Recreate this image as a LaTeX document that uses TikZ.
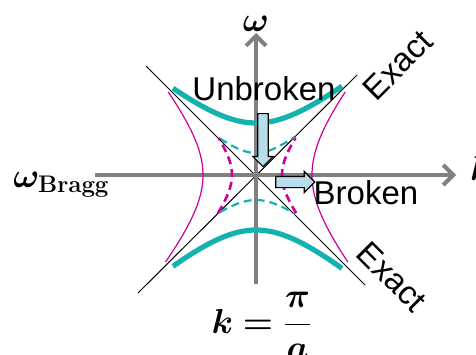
\documentclass[tikz,border=0pt]{standalone}
\usepackage{amsmath,bm}
\usepackage[no-math]{fontspec}
\setmainfont{Liberation Sans}
\usetikzlibrary{arrows.meta,positioning,shapes.arrows}
\definecolor{axgray}{RGB}{128,128,128}
\definecolor{bandteal}{RGB}{19,178,174}
\definecolor{lossmag}{RGB}{204,0,153}
\definecolor{arrfill}{RGB}{183,222,232}

\begin{document}
\begin{tikzpicture}[x=0.5pt, y=0.5pt, font=\fontsize{16.5}{19}\selectfont,
  axis/.style={draw=axgray, line width=2pt, -{Straight Barb[length=5pt,width=10pt]}},
  asym/.style={draw=black, line width=0.5pt},
  band/.style={draw=bandteal, line width=2.6pt},
  bandd/.style={draw=bandteal, line width=1.1pt, dash pattern=on 4pt off 2.5pt},
  lossy/.style={draw=lossmag, line width=0.6pt},
  lossyd/.style={draw=lossmag, line width=1.3pt, dash pattern=on 4pt off 2.5pt},
  blk/.style={single arrow, draw=black, fill=arrfill, line width=0.6pt, inner sep=2.3pt,
    single arrow head extend=2.5pt, single arrow tip angle=90}]
\useasboundingbox (-256,-179) rectangle (220,175);
% axes and light lines
\coordinate (o) at (0,0);
\coordinate (xl) at (-161,0); \coordinate (xr) at (200,0);
\coordinate (yb) at (0,-109); \coordinate (yt) at (0,142);
\coordinate (la) at (-110,109); \coordinate (lb) at (109,-110);
\coordinate (lc) at (-118,-118); \coordinate (ld) at (101,100);
\draw[asym] (la) -- (lb);
\draw[asym] (lc) -- (ld);
\draw[axis] (xl) -- (xr);
\draw[axis] (yb) -- (yt);
% exact bands
\draw[band] plot[domain=-83:86, samples=50] (\x,{sqrt(52*52+0.7*\x*\x)});
\draw[band] plot[domain=-83:86, samples=50] (\x,{-sqrt(55*55+0.77*\x*\x)});
\draw[lossy] plot[domain=-87:83, samples=50] ({-sqrt(53*53+0.71*\x*\x)},\x);
\draw[lossy] plot[domain=-87:83, samples=50] ({sqrt(56*56+0.7*\x*\x)},\x);
% broken / unbroken
\draw[bandd] plot[domain=-36:39, samples=30] (\x,{sqrt(22*22+0.65*\x*\x)});
\draw[bandd] plot[domain=-36:39, samples=30] (\x,{-sqrt(25*25+0.58*\x*\x)});
\draw[lossyd] plot[domain=-38:37, samples=30] ({-sqrt(24*24+0.6*\x*\x)},\x);
\draw[lossyd] plot[domain=-38:37, samples=30] ({sqrt(26*26+0.65*\x*\x)},\x);
\node[blk, minimum height=26.5pt, shape border rotate=270] (dn) at (7,37.5) {};
\node[blk, minimum height=19.5pt, inner sep=2.5pt] (rt) at (36.5,-7) {};
% labels
\node[anchor=base] (unb) at (8,75) {Unbroken};
\node[anchor=base] (brk) at (110,-29) {Broken};
\node[rotate=45] (ex1) at (142,110) {Exact};
\node[rotate=-45] (ex2) at (136,-102) {Exact};
\node (om) at (0,151) {$\boldsymbol{\omega}$};
\node[anchor=base west] (kk) at (207,-5) {$\boldsymbol{k}$};
\node[anchor=base west, inner sep=0pt] (wb) at (-243,-12) {$\boldsymbol{\omega}_{\mathbf{Bragg}}$};
\node[anchor=base] (kpa) at (6,-158) {$\boldsymbol{k=\dfrac{\pi}{a}}$};
\end{tikzpicture}
\end{document}
